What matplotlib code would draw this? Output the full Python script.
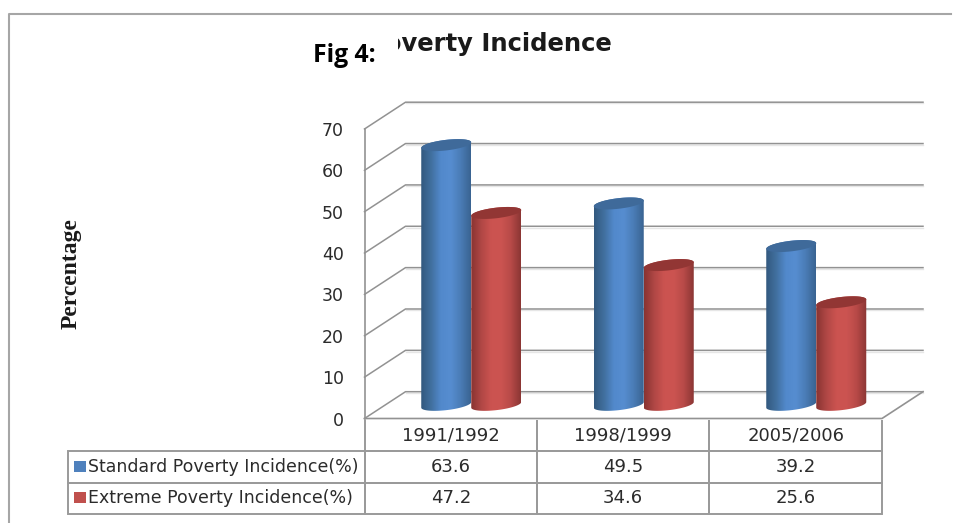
import numpy as np
import matplotlib
matplotlib.use("Agg")
import matplotlib.pyplot as plt
from matplotlib.colors import LinearSegmentedColormap
from matplotlib.lines import Line2D
from matplotlib.patches import Polygon, Rectangle

years = ["1991/1992", "1998/1999", "2005/2006"]
standard = [63.6, 49.5, 39.2]
extreme = [47.2, 34.6, 25.6]
series_names = ["Standard Poverty Incidence(%)", "Extreme Poverty Incidence(%)"]
yticks = [0, 10, 20, 30, 40, 50, 60, 70]

W, H = 954, 523
GRID = "#929292"
TABLE_LINE = "#9a9a9a"
TEXT = "#2b2b2b"

fig = plt.figure(figsize=(W / 100, H / 100), dpi=100)
fig.patch.set_facecolor("white")

# front plane of the fake 3d box, in pixels
left, right, bottom, top = 364.5, 882, 418.5, 129
ax = fig.add_axes([left / W, 1 - bottom / H, (right - left) / W, (bottom - top) / H])
ax.set_xlim(-0.5, 2.5)
ax.set_ylim(0, 70)
for s in ax.spines.values():
    s.set_visible(False)
ax.patch.set_alpha(0)

# depth of the box in data units
px_x = 3 / (right - left)
px_y = 70 / (bottom - top)
dx = 41 * px_x
dy = 26.8 * px_y

ax.set_xticks([])
ax.set_yticks(yticks)
ax.set_yticklabels([str(v) for v in yticks], fontsize=12.5, color=TEXT)
ax.tick_params(axis="y", length=0, pad=15)

# walls and gridlines
for v in yticks:
    ax.plot([-0.5 + dx, 2.5 + dx], [v + dy - 0.3, v + dy - 0.3], color="#e6e6e6", lw=1.0,
            clip_on=False, zorder=0.9)
    ax.plot([-0.5, -0.5 + dx, 2.5 + dx], [v, v + dy, v + dy], color=GRID, lw=1.1, clip_on=False, zorder=1)
ax.plot([-0.5, -0.5], [0, 70], color=GRID, lw=1.2, clip_on=False, zorder=1)
ax.plot([-0.5, 2.5, 2.5 + dx], [0, 0, dy], color=GRID, lw=1.2, clip_on=False, zorder=1)

blue_cmap = LinearSegmentedColormap.from_list("b", ["#33597f", "#41709f", "#5289cc", "#568dd0", "#4a7cb6", "#3a6492"])
red_cmap = LinearSegmentedColormap.from_list("r", ["#893432", "#b04745", "#cb5350", "#cc5451", "#b84a48", "#8c3634"])
grad = np.linspace(0, 1, 64).reshape(1, -1)


def cylinder(cx, value, cmap, top_color, order):
    hw = 25 * px_x
    b = 5.3 * px_y
    shear = 2.8 * px_y
    foot = 3.3
    base = 2.5
    t = np.linspace(np.pi, 2 * np.pi, 40)
    bx = cx + hw * np.cos(t)
    by = foot + b * np.sin(t) + shear * np.cos(t)
    tx = cx + hw * np.cos(t[::-1])
    ty = base + value - b * np.sin(t[::-1]) + shear * np.cos(t[::-1])
    outline = Polygon(np.column_stack([np.r_[bx, tx], np.r_[by, ty]]), closed=True,
                      facecolor="none", edgecolor="none", zorder=order)
    ax.add_patch(outline)
    im = ax.imshow(grad, cmap=cmap, aspect="auto", zorder=order,
                   extent=[cx - hw, cx + hw, 0, base + value + b + shear])
    im.set_clip_path(outline)
    t2 = np.linspace(0, 2 * np.pi, 80)
    cap = np.column_stack([cx + hw * np.cos(t2),
                           base + value + b * np.sin(t2) + shear * np.cos(t2)])
    ax.add_patch(Polygon(cap, closed=True, facecolor=top_color, edgecolor="none", zorder=order + 0.1))


for i in range(len(years)):
    cx = i + dx / 2
    cylinder(cx - 25 * px_x, standard[i], blue_cmap, "#3f6a9a", 3 + i)
    cylinder(cx + 25 * px_x, extreme[i], red_cmap, "#923634", 3.5 + i)
ax.set_xlim(-0.5, 2.5)
ax.set_ylim(0, 70)

# data table under the chart
cell_text = [[""] + years,
             [series_names[0]] + [f"{v:.1f}" for v in standard],
             [series_names[1]] + [f"{v:.1f}" for v in extreme]]
ax_w = right - left
ax_h = bottom - top
tbl_left = 67.5
tbl = ax.table(cellText=cell_text, cellLoc="center",
               colWidths=[(left - tbl_left) / ax_w, 1 / 3, 1 / 3, 1 / 3],
               bbox=[(tbl_left - left) / ax_w, (bottom - 514) / ax_h,
                     (right - tbl_left) / ax_w, (514 - 420) / ax_h])
tbl.auto_set_font_size(False)
tbl.set_fontsize(13)
for (r, c), cell in tbl.get_celld().items():
    cell.set_edgecolor(TABLE_LINE)
    cell.set_linewidth(1.4)
    cell.set_facecolor("none")
    cell.get_text().set_color(TEXT)
    if c == 0:
        cell.get_text().set_ha("left")
        cell.PAD = 20.5 / (left - tbl_left)
        cell.get_text().set_fontsize(12.5)
    if r == 0 and c == 0:
        cell.set_visible(False)
    if r == 0 and c > 0:
        cell.visible_edges = "BRL"

for y0, col in [(460.5, "#4f81bd"), (491.5, "#c0504d")]:
    fig.add_artist(Rectangle((74 / W, 1 - (y0 + 11.5) / H), 12 / W, 11.5 / H,
                             transform=fig.transFigure, facecolor=col, edgecolor="none"))

# outer chart border, only top and left show in the crop
fig.add_artist(Line2D([9.5 / W, 9.5 / W, 951 / W], [0, 1 - 13.5 / H, 1 - 13.5 / H],
                      color="#a6a6a6", lw=1.5))

# the white box hides the start of the old title, same as the reference
fig.text(612 / W, 1 - 44 / H, "Poverty Incidence", fontsize=17.5, fontweight="bold",
         family="DejaVu Sans", color="#1a1a1a", ha="right", va="center")
fig.add_artist(Rectangle((300 / W, 1 - 75 / H), 98 / W, 50 / H, transform=fig.transFigure,
                         facecolor="white", edgecolor="none", zorder=5))
fig.text(313 / W, 1 - 55 / H, "Fig 4:", fontsize=17.8, fontweight="bold", family="Open Sans",
         color="black", ha="left", va="center", zorder=6)
fig.text(71 / W, 1 - 274 / H, "Percentage", fontsize=17, fontweight="bold", family="Liberation Serif",
         color="#1a1a1a", rotation=90, ha="center", va="center")

fig.savefig("out.png", dpi=100)
